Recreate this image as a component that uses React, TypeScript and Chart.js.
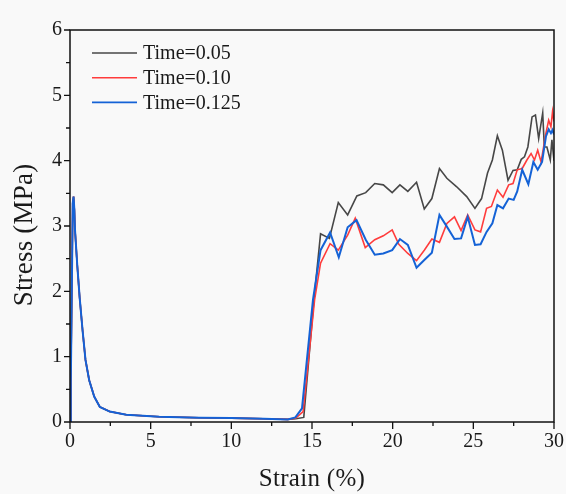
import React, { useEffect, useRef } from "react";
import { Chart, registerables } from "chart.js";

Chart.register(...registerables);

// Shared initial segment (all three curves coincide here)
const initialStrain = [0, 0.05, 0.12, 0.17, 0.22, 0.27, 0.31, 0.45, 0.6, 0.78, 0.96, 1.19, 1.5, 1.85, 2.46, 3.49, 5.53, 8, 10, 12, 13.5];
const initialStress = [0, 0.6, 2.2, 3.35, 3.45, 3.25, 2.94, 2.4, 1.9, 1.4, 0.95, 0.64, 0.39, 0.23, 0.16, 0.11, 0.08, 0.065, 0.06, 0.05, 0.04];

// Time = 0.05 (after initial segment)
const strain005 = [14.0, 14.49, 15.12, 15.53, 16.08, 16.63, 17.21, 17.78, 18.33, 18.89, 19.42, 19.97, 20.45, 20.94, 21.48, 21.96, 22.43, 22.9, 23.36, 23.97, 24.59, 25.1, 25.51, 25.88, 26.18, 26.49, 26.8, 27.15, 27.46, 27.72, 27.97, 28.17, 28.38, 28.64, 28.85, 29.05, 29.3, 29.4, 29.56, 29.77, 29.87, 30.0];
const stress005 = [0.05, 0.07, 1.87, 2.88, 2.81, 3.36, 3.17, 3.46, 3.51, 3.65, 3.63, 3.51, 3.63, 3.53, 3.67, 3.26, 3.42, 3.88, 3.73, 3.6, 3.45, 3.27, 3.42, 3.81, 4.01, 4.38, 4.16, 3.7, 3.85, 3.86, 4.02, 4.06, 4.21, 4.67, 4.7, 4.34, 4.73, 4.21, 4.21, 4.01, 4.32, 4.0];

// Time = 0.10
const strain010 = [14.0, 14.45, 15.16, 15.53, 16.12, 16.63, 17.21, 17.68, 18.3, 18.89, 19.42, 19.97, 20.38, 20.94, 21.48, 21.96, 22.43, 22.9, 23.36, 23.83, 24.24, 24.65, 25.1, 25.45, 25.82, 26.12, 26.49, 26.84, 27.19, 27.46, 27.72, 28.03, 28.32, 28.58, 28.79, 28.99, 29.2, 29.5, 29.67, 29.81, 29.91, 30.0];
const stress010 = [0.06, 0.16, 1.87, 2.43, 2.73, 2.63, 2.86, 3.12, 2.67, 2.79, 2.85, 2.94, 2.72, 2.58, 2.47, 2.63, 2.8, 2.75, 3.04, 3.14, 2.93, 3.17, 2.94, 2.91, 3.27, 3.3, 3.55, 3.44, 3.63, 3.65, 3.86, 3.88, 4.01, 4.11, 4.01, 4.16, 3.98, 4.42, 4.62, 4.52, 4.75, 4.6];

// Time = 0.125
const strain0125 = [13.97, 14.38, 15.06, 15.53, 16.12, 16.66, 17.21, 17.76, 18.33, 18.89, 19.42, 19.97, 20.45, 20.94, 21.48, 21.96, 22.43, 22.9, 23.36, 23.83, 24.24, 24.65, 25.1, 25.45, 25.82, 26.18, 26.49, 26.84, 27.19, 27.5, 27.72, 28.03, 28.41, 28.72, 28.99, 29.26, 29.5, 29.67, 29.81, 29.91, 30.0];
const stress0125 = [0.07, 0.21, 1.87, 2.63, 2.9, 2.52, 2.98, 3.09, 2.79, 2.56, 2.58, 2.63, 2.8, 2.71, 2.36, 2.48, 2.59, 3.17, 2.99, 2.8, 2.81, 3.14, 2.71, 2.72, 2.91, 3.04, 3.32, 3.27, 3.42, 3.4, 3.53, 3.86, 3.64, 3.98, 3.86, 3.98, 4.37, 4.48, 4.42, 4.47, 4.4];

const seriesLabels = ["Time=0.05", "Time=0.10", "Time=0.125"];
const seriesColors = ["#474747", "#ff3c3c", "#1462d6"];

const xTickValues = [0, 5, 10, 15, 20, 25, 30];
const yTickValues = [0, 1, 2, 3, 4, 5, 6];

const xTitle = "Strain (%)";
const yTitle = "Stress (MPa)";

const FONT = "'Liberation Serif', 'Times New Roman', serif";
const TEXT = "#1a1a1a";

function buildPoints(xs: number[], ys: number[]) {
  const pts = initialStrain.map((x, i) => ({ x, y: initialStress[i] }));
  xs.forEach((x, i) => pts.push({ x, y: ys[i] }));
  return pts;
}

const framePlugin = {
  id: "frame",
  beforeDraw(chart: any) {
    const { ctx, width, height } = chart;
    ctx.save();
    ctx.fillStyle = "#f9f9f9";
    ctx.fillRect(0, 0, width, height);
    ctx.restore();
  },
  afterDraw(chart: any) {
    const { ctx, chartArea } = chart;
    const xs = chart.scales.x;
    const ys = chart.scales.y;
    ctx.save();
    ctx.strokeStyle = "#111";
    ctx.lineWidth = 1.5;
    ctx.strokeRect(chartArea.left, chartArea.top, chartArea.right - chartArea.left, chartArea.bottom - chartArea.top);
    ctx.lineWidth = 1.3;
    ctx.beginPath();
    for (let i = 0; i < xTickValues.length; i++) {
      const v = xTickValues[i];
      const px = xs.getPixelForValue(v);
      ctx.moveTo(px, chartArea.bottom);
      ctx.lineTo(px, chartArea.bottom + 7);
      if (i < xTickValues.length - 1) {
        const mpx = xs.getPixelForValue((v + xTickValues[i + 1]) / 2);
        ctx.moveTo(mpx, chartArea.bottom);
        ctx.lineTo(mpx, chartArea.bottom + 4);
      }
    }
    for (let i = 0; i < yTickValues.length; i++) {
      const v = yTickValues[i];
      const py = ys.getPixelForValue(v);
      ctx.moveTo(chartArea.left, py);
      ctx.lineTo(chartArea.left - 6, py);
      if (i < yTickValues.length - 1) {
        const mpy = ys.getPixelForValue((v + yTickValues[i + 1]) / 2);
        ctx.moveTo(chartArea.left, mpy);
        ctx.lineTo(chartArea.left - 4, mpy);
      }
    }
    ctx.stroke();

    // axis titles
    ctx.fillStyle = TEXT;
    ctx.textAlign = "center";
    ctx.textBaseline = "alphabetic";
    ctx.font = `25px ${FONT}`;
    (ctx as any).letterSpacing = "0.3px";
    ctx.fillText(xTitle, (chartArea.left + chartArea.right) / 2, 486);
    ctx.save();
    ctx.translate(32, 235);
    ctx.rotate(-Math.PI / 2);
    ctx.font = `27px ${FONT}`;
    (ctx as any).letterSpacing = "0.2px";
    ctx.fillText(yTitle, 0, 0);
    ctx.restore();
    (ctx as any).letterSpacing = "0px";

    // legend
    const lx = chartArea.left + 22;
    const ly = chartArea.top + 23;
    ctx.font = `20px ${FONT}`;
    ctx.textBaseline = "middle";
    ctx.textAlign = "left";
    seriesLabels.forEach((label, i) => {
      const y = ly + i * 24.7;
      ctx.strokeStyle = seriesColors[i];
      ctx.lineWidth = 1.6;
      ctx.beginPath();
      ctx.moveTo(lx, y);
      ctx.lineTo(lx + 45, y);
      ctx.stroke();
      ctx.fillStyle = TEXT;
      ctx.fillText(label, lx + 51, y + 1);
    });
    ctx.restore();
  },
};

export default function App() {
  const canvasRef = useRef<HTMLCanvasElement | null>(null);

  useEffect(() => {
    document.body.style.margin = "0";
    const canvas = canvasRef.current;
    if (!canvas) return;
    const chart = new Chart(canvas, {
      type: "line",
      data: {
        datasets: [
          { label: seriesLabels[0], data: buildPoints(strain005, stress005), borderColor: seriesColors[0], borderWidth: 1.6, pointRadius: 0, tension: 0, order: 3 },
          { label: seriesLabels[1], data: buildPoints(strain010, stress010), borderColor: seriesColors[1], borderWidth: 1.6, pointRadius: 0, tension: 0, order: 2 },
          { label: seriesLabels[2], data: buildPoints(strain0125, stress0125), borderColor: seriesColors[2], borderWidth: 2, pointRadius: 0, tension: 0, order: 1 },
        ],
      },
      options: {
        animation: false,
        responsive: false,
        maintainAspectRatio: false,
        layout: { padding: { top: 30, right: 8, left: 0, bottom: 0 } },
        plugins: { legend: { display: false }, tooltip: { enabled: false } },
        scales: {
          x: {
            type: "linear",
            min: 0,
            max: 30,
            grid: { display: false, drawTicks: true, tickLength: 6 },
            border: { display: false },
            ticks: {
              stepSize: 5,
              padding: 2,
              color: TEXT,
              font: { family: FONT, size: 20 },
              maxRotation: 0,
              autoSkip: false,
            },
            afterFit: (scale: any) => {
              scale.height = 72;
            },
          },
          y: {
            type: "linear",
            min: 0,
            max: 6,
            grid: { display: false, drawTicks: true, tickLength: 5 },
            border: { display: false },
            ticks: {
              stepSize: 1,
              padding: 3,
              color: TEXT,
              font: { family: FONT, size: 20 },
            },
            afterFit: (scale: any) => {
              scale.width = 70;
            },
          },
        },
      },
      plugins: [framePlugin],
    });
    return () => chart.destroy();
  }, []);

  return (
    <div style={{ width: 566, height: 494 }}>
      <canvas ref={canvasRef} width={566} height={494} style={{ display: "block" }} />
    </div>
  );
}
